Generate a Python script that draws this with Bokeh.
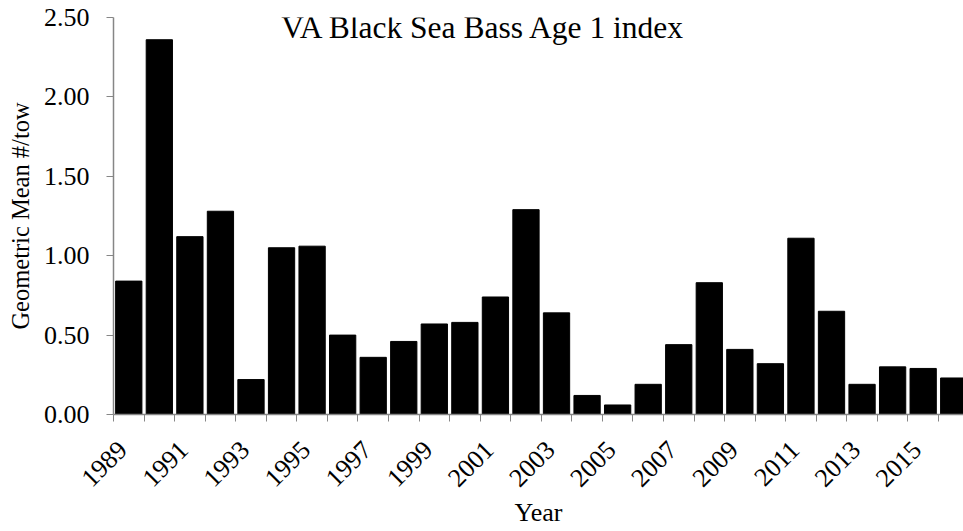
import math
from bokeh.plotting import figure
from bokeh.models import Range1d, FixedTicker, NumeralTickFormatter, Label
from bokeh.embed import file_html
from bokeh.resources import INLINE

years = list(range(1989, 2017))
values = [0.84, 2.36, 1.12, 1.28, 0.22, 1.05, 1.06, 0.50, 0.36, 0.46,
          0.57, 0.58, 0.74, 1.29, 0.64, 0.12, 0.06, 0.19, 0.44, 0.83,
          0.41, 0.32, 1.11, 0.65, 0.19, 0.30, 0.29, 0.23]
label_years = [y for y in years if (y - 1989) % 2 == 0]
y_ticks = [0.0, 0.5, 1.0, 1.5, 2.0, 2.5]
title_text = "VA Black Sea Bass Age 1 index"
x_title = "Year"
y_title = "Geometric Mean #/tow"

FONT = "Liberation Serif"
AXIS_COLOR = "#868686"
LABEL_SHIFT = 0.2  # slanted labels end near the bar centre

p = figure(width=963, height=531, output_backend="svg", toolbar_location=None,
           x_range=Range1d(years[0] - 0.5, years[0] - 0.5 + 27.82),
           y_range=Range1d(0, 2.5),
           min_border_left=113, min_border_right=0, min_border_top=17, min_border_bottom=117)
p.outline_line_color = None
p.grid.visible = False
p.background_fill_color = "white"
p.border_fill_color = "white"

p.vbar(x=years, top=values, width=0.86, fill_color="black", line_color="black")

# x axis
xa = p.xaxis[0]
label_pos = [y - LABEL_SHIFT for y in label_years]
xa.ticker = FixedTicker(ticks=label_pos, minor_ticks=[y - 0.5 for y in years] + [years[-1] + 0.5])
xa.major_label_overrides = {pos: str(y) for pos, y in zip(label_pos, label_years)}
xa.major_tick_out = 0
xa.major_tick_in = 0
xa.minor_tick_out = 7
xa.minor_tick_in = 0
xa.minor_tick_line_color = AXIS_COLOR
xa.axis_line_color = AXIS_COLOR
xa.axis_line_width = 1.5
xa.major_label_orientation = math.pi / 4
xa.major_label_text_font = FONT
xa.major_label_text_font_size = "26px"
xa.major_label_text_color = "black"
xa.major_label_standoff = 24
xa.axis_label = x_title
xa.axis_label_text_font = FONT
xa.axis_label_text_font_size = "26px"
xa.axis_label_text_font_style = "normal"
xa.axis_label_text_color = "black"
xa.axis_label_standoff = 1

# y axis
ya = p.yaxis[0]
ya.ticker = FixedTicker(ticks=y_ticks)
ya.formatter = NumeralTickFormatter(format="0.00")
ya.major_tick_out = 7
ya.major_tick_in = 0
ya.minor_tick_out = 0
ya.minor_tick_in = 0
ya.major_tick_line_color = AXIS_COLOR
ya.axis_line_color = AXIS_COLOR
ya.axis_line_width = 1.5
ya.major_label_text_font = FONT
ya.major_label_text_font_size = "26px"
ya.major_label_text_color = "black"
ya.major_label_standoff = 17
ya.axis_label = y_title
ya.axis_label_text_font = FONT
ya.axis_label_text_font_size = "24.5px"
ya.axis_label_text_font_style = "normal"
ya.axis_label_text_color = "black"
ya.axis_label_standoff = 7

title = Label(x=2000.62, y=2.44, text=title_text, text_font=FONT, text_font_size="31.5px",
              text_align="center", text_baseline="alphabetic", text_color="black")
p.add_layout(title)

open("out.html", "w").write(file_html(p, INLINE))
